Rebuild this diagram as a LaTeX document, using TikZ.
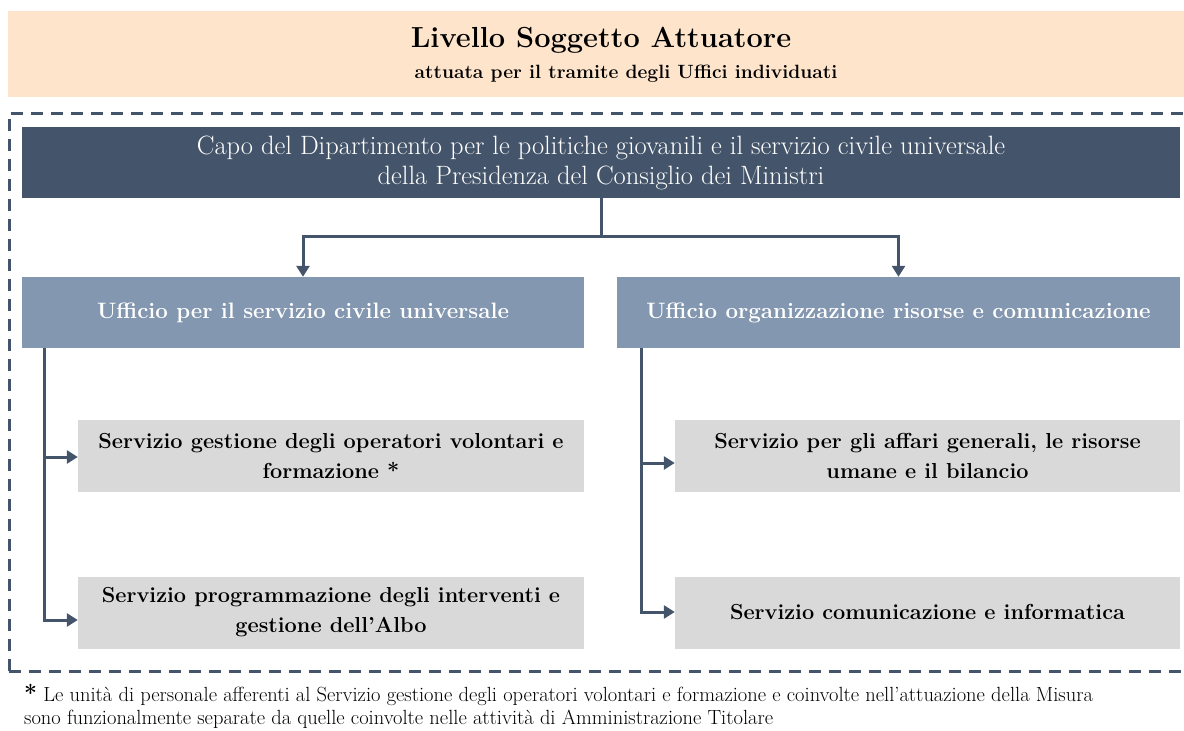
\documentclass[tikz,border=0pt]{standalone}
\usetikzlibrary{arrows.meta}
\definecolor{peach}{HTML}{FDE4CB}
\definecolor{navy}{HTML}{44546A}
\definecolor{steel}{HTML}{8497B0}
\definecolor{lgray}{HTML}{D9D9D9}
\tikzset{
  box/.style={rectangle, inner sep=0pt, align=center, anchor=center},
  darkbox/.style={box, fill=navy, text=white, font=\fontsize{26.5}{30}\selectfont},
  bluebox/.style={box, fill=steel, text=white, font=\fontsize{22.3}{26}\selectfont\bfseries, minimum height=71pt},
  graybox/.style={box, fill=lgray, text=black, font=\fontsize{21.7}{30}\selectfont\bfseries, minimum height=72pt},
  conn/.style={draw=navy, line width=3pt, -{Triangle[length=11pt,width=13pt]}},
  frame/.style={draw=navy, line width=3pt, dash pattern=on 12pt off 8pt},
}
\begin{document}
\begin{tikzpicture}[x=1pt,y=-1pt]
\useasboundingbox (0,0) rectangle (1184,731);
% header
\node[box, fill=peach, minimum width=1180pt, minimum height=86pt] (head) at (598,54) {};
\node[box, font=\fontsize{29}{34}\selectfont\bfseries] (title) at (601,40) {Livello Soggetto Attuatore};
\node[box, font=\fontsize{19.2}{22}\selectfont\bfseries] (sub) at (626,74) {attuata per il tramite degli Uffici individuati};
% dashed frame
\draw[frame] (9,671) -- (9,113) -- (1200,113);
\draw[frame] (9,671) -- (1200,671);
% top
\node[darkbox, minimum width=1158pt, minimum height=71pt] (capo) at (601,162.5)
  {Capo del Dipartimento per le politiche giovanili e il servizio civile universale\\della Presidenza del Consiglio dei Ministri};
% offices
\node[bluebox, minimum width=562pt] (uL) at (303,312.5) {Ufficio per il servizio civile universale};
\node[bluebox, minimum width=563pt] (uR) at (898.5,312.5) {Ufficio organizzazione risorse e comunicazione};
% services
\node[graybox, minimum width=506pt] (sL1) at (331,456) {Servizio gestione degli operatori volontari e\\formazione *};
\node[graybox, minimum width=506pt] (sL2) at (331,612.5) {Servizio programmazione degli interventi e\\gestione dell’Albo};
\node[graybox, minimum width=505pt] (sR1) at (927.5,456) {Servizio per gli affari generali, le risorse\\umane e il bilancio};
\node[graybox, minimum width=505pt] (sR2) at (927.5,612.5) {Servizio comunicazione e informatica};
% connectors
\coordinate (mid) at (601,236);
\draw[conn] (capo.south) -- (mid) -| (uL.north);
\draw[conn] (mid) -| (uR.north);
\coordinate (tL) at (44,348);
\coordinate (tR) at (641,348);
\draw[conn] (tL) |- (sL1.west |- 0,457);
\draw[conn] (tL) |- (sL2.west |- 0,620);
\draw[conn] (tR) |- (sR1.west |- 0,463);
\draw[conn] (tR) |- (sR2.west |- 0,612);
% footnote
\node[anchor=west, inner sep=0pt, align=left, font=\fontsize{20.5}{23}\selectfont] (note) at (24,706)
  {{\fontsize{23}{23}\selectfont\bfseries *} Le unità di personale afferenti al Servizio gestione degli operatori volontari e formazione e coinvolte nell’attuazione della Misura\\
   sono funzionalmente separate da quelle coinvolte nelle attività di Amministrazione Titolare};
\end{tikzpicture}
\end{document}
